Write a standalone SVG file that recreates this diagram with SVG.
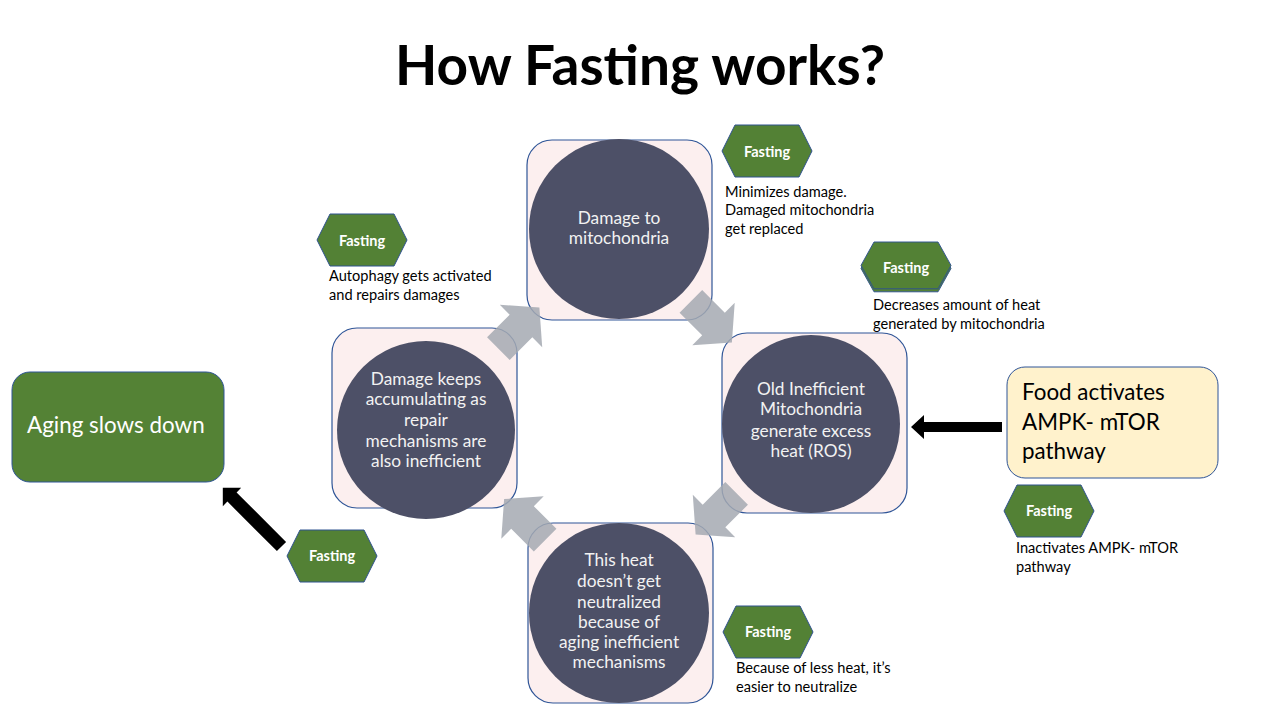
<svg xmlns="http://www.w3.org/2000/svg" width="1280" height="720" viewBox="0 0 1280 720">
<defs>
<style>
.t{font-family:Lato,"Open Sans",sans-serif}
.title{font-family:Lato,"Open Sans",sans-serif;font-weight:bold;font-size:55px;fill:#000}
.sq{fill:#FCEFEF;stroke:#2F5597;stroke-width:1.2}
.circ{fill:#4D5067}
.ct{font-family:Lato,"Open Sans",sans-serif;font-size:17.3px;fill:#F2F2F2;text-anchor:middle}
.hex{fill:#538135;stroke:#2F528F;stroke-width:1}
.ht{font-family:Lato,"Open Sans",sans-serif;font-weight:bold;font-size:14.5px;fill:#fff;text-anchor:middle}
.cap{font-family:Lato,"Open Sans",sans-serif;font-size:14.6px;fill:#000}
.big{font-family:Lato,"Open Sans",sans-serif;font-size:22.4px}
.garrow{fill:#A5A9B1;fill-opacity:0.85}
.barrow{fill:#000}
</style>
<polygon id="hexshape" points="0,26 13,0 77,0 90,26 77,52 13,52"/>
<polygon id="garr" points="-32,-16 0,-16 0,-30 26,0 0,30 0,16 -32,16"/>
</defs>
<rect width="1280" height="720" fill="#fff"/>
<text class="title" x="640" y="85" text-anchor="middle">How Fasting works?</text>

<g id="node-top">
<rect class="sq" x="527" y="140" width="185" height="180" rx="25"/>
<circle class="circ" cx="619" cy="229" r="90"/>
<text class="ct" x="619" y="224">Damage to</text>
<text class="ct" x="619" y="244">mitochondria</text>
</g>

<g id="node-right">
<rect class="sq" x="722" y="333" width="185" height="180" rx="25"/>
<circle class="circ" cx="811" cy="424" r="89"/>
<text class="ct" x="811" y="395">Old Inefficient</text>
<text class="ct" x="811" y="415">Mitochondria</text>
<text class="ct" x="811" y="437">generate excess</text>
<text class="ct" x="811" y="457">heat (ROS)</text>
</g>

<g id="node-bottom">
<rect class="sq" x="528" y="523" width="185" height="180" rx="25"/>
<circle class="circ" cx="619" cy="613" r="90"/>
<text class="ct" x="619" y="566">This heat</text>
<text class="ct" x="619" y="587">doesn’t get</text>
<text class="ct" x="619" y="608">neutralized</text>
<text class="ct" x="619" y="628">because of</text>
<text class="ct" x="619" y="648">aging inefficient</text>
<text class="ct" x="619" y="668">mechanisms</text>
</g>

<g id="node-left">
<rect class="sq" x="332" y="328" width="185" height="180" rx="25"/>
<circle class="circ" cx="426" cy="430" r="89"/>
<text class="ct" x="426" y="385">Damage keeps</text>
<text class="ct" x="426" y="405">accumulating as</text>
<text class="ct" x="426" y="426">repair</text>
<text class="ct" x="426" y="447">mechanisms are</text>
<text class="ct" x="426" y="467">also inefficient</text>
</g>

<g id="node-aging">
<rect x="12" y="372" width="212" height="110" rx="18" fill="#548235" stroke="#2F5597" stroke-width="1"/>
<text class="big" x="27" y="433" fill="#fff">Aging slows down</text>
</g>

<g id="node-food">
<rect x="1007" y="367" width="211" height="111" rx="18" fill="#FFF2CC" stroke="#2F5597" stroke-width="1"/>
<text class="big" x="1022" y="400" fill="#000">Food activates</text>
<text class="big" x="1022" y="430" fill="#000">AMPK- mTOR</text>
<text class="big" x="1022" y="459" fill="#000">pathway</text>
</g>

<g id="fasting-top">
<use href="#hexshape" class="hex" transform="translate(722,125)"/>
<text class="ht" x="767" y="157">Fasting</text>
<text class="cap" x="725" y="197">Minimizes damage.</text>
<text class="cap" x="725" y="215">Damaged mitochondria</text>
<text class="cap" x="725" y="234">get replaced</text>
</g>

<g id="fasting-left">
<use href="#hexshape" class="hex" transform="translate(317,214)"/>
<text class="ht" x="362" y="246">Fasting</text>
<text class="cap" x="329" y="281">Autophagy gets activated</text>
<text class="cap" x="329" y="300">and repairs damages</text>
</g>

<g id="fasting-right">
<use href="#hexshape" class="hex" transform="translate(861,245) scale(1,0.9)"/>
<use href="#hexshape" class="hex" transform="translate(861,242) scale(1,0.9)"/>
<text class="ht" x="906" y="273">Fasting</text>
<text class="cap" x="873" y="310">Decreases amount of heat</text>
<text class="cap" x="873" y="329">generated by mitochondria</text>
</g>

<g id="fasting-food">
<use href="#hexshape" class="hex" transform="translate(1004,485)"/>
<text class="ht" x="1049" y="516">Fasting</text>
<text class="cap" x="1016" y="553">Inactivates AMPK- mTOR</text>
<text class="cap" x="1016" y="572">pathway</text>
</g>

<g id="fasting-bottom">
<use href="#hexshape" class="hex" transform="translate(723,606)"/>
<text class="ht" x="768" y="637">Fasting</text>
<text class="cap" x="736" y="673">Because of less heat, it’s</text>
<text class="cap" x="736" y="692">easier to neutralize</text>
</g>

<g id="fasting-aging">
<use href="#hexshape" class="hex" transform="translate(287,530)"/>
<text class="ht" x="332" y="561">Fasting</text>
</g>

<g id="connectors">
<use href="#garr" class="garrow" transform="translate(713.5,324) rotate(45)"/>
<use href="#garr" class="garrow" transform="translate(714,516) rotate(135)"/>
<use href="#garr" class="garrow" transform="translate(522.5,517.5) rotate(-135)"/>
<use href="#garr" class="garrow" transform="translate(521,326) rotate(-45)"/>
<polygon class="barrow" points="1002,422 924,422 924,415 911,427 924,439 924,432 1002,432"/>
<polygon class="barrow" transform="translate(232,497) rotate(-135)" points="-70,-6.5 0,-6.5 0,-13 13,0 0,13 0,6.5 -70,6.5"/>
</g>
</svg>
